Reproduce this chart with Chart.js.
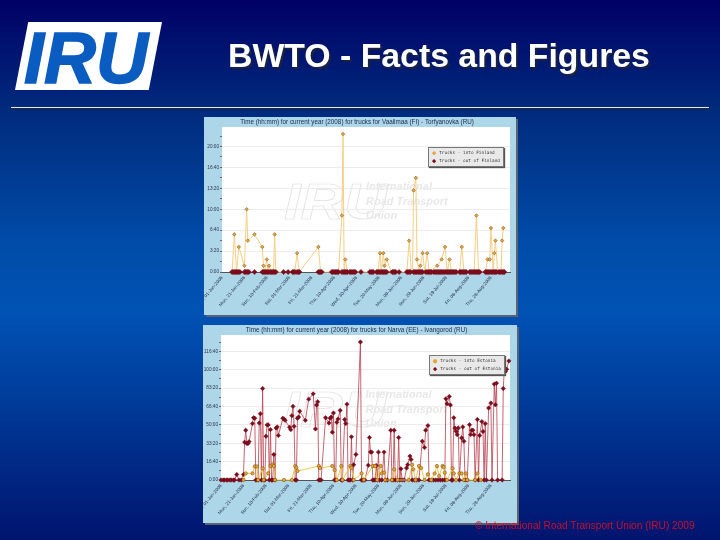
<!DOCTYPE html>
<html>
<head>
<meta charset="utf-8">
<script src="https://cdn.jsdelivr.net/npm/chart.js@4"></script>
<style>
  html, body { margin: 0; padding: 0; }
  body {
    width: 720px; height: 540px; overflow: hidden; position: relative;
    background: linear-gradient(#000066 0%, #002a7c 20%, #004ca8 45%, #0052b4 58%, #003a98 75%, #00146e 100%);
    font-family: "Liberation Sans", Arial, sans-serif;
  }
  #logo {
    position: absolute; left: 15px; top: 22px; width: 147px; height: 68px; background: #fff;
    clip-path: polygon(9% 0, 100% 0, 91% 100%, 0 100%); overflow: hidden;
  }
  #logo span {
    position: absolute; left: 9px; top: -9px; font: italic bold 72px "Liberation Sans"; color: #0a5cc0;
    line-height: 90px; -webkit-text-stroke: 1.5px #0a5cc0;
  }
  #heading {
    position: absolute; left: 228px; top: 37px; color: #fff; font-weight: bold; font-size: 33.8px;
    line-height: 36px; white-space: nowrap; text-shadow: 2px 2px 1px #1a2440; filter: blur(0.3px);
  }
  #rule { position: absolute; left: 11px; top: 107px; width: 698px; height: 1px; background: #e8eef8; box-shadow: 0 1px 0 #223; }
  #footer {
    position: absolute; left: 475px; top: 519px; color: #c8102e; font-size: 10.1px; line-height: 13px; white-space: nowrap;
  }
  .panel { position: absolute; box-shadow: 2px 2px 0 #59646e; background: #add6e8; }
  .panel canvas { display: block; filter: blur(0.45px); }
  .legend {
    position: absolute; background: #e9e9e9; border: 1px solid #777; box-shadow: 1px 1px 1px #555;
    font: 4.4px "DejaVu Sans Mono", monospace; color: #333; padding: 1px 3px; white-space: nowrap; filter: blur(0.25px);
  }
  .legend div { height: 8px; line-height: 8px; }
  .legend i { font-style: normal; font-size: 7px; margin-right: 3px; vertical-align: -1px; }
</style>
</head>
<body>
<div id="logo"><span>IRU</span></div>
<div id="heading">BWTO - Facts and Figures</div>
<div id="rule"></div>

<div class="panel" style="left:204px;top:117px;width:312px;height:198px">
  <canvas id="charts__vaalimaa" width="312" height="198"></canvas>
  <div class="legend" id="legend__vaalimaa" style="left:224px;top:30px"></div>
</div>
<div class="panel" style="left:203px;top:325px;width:314px;height:198px">
  <canvas id="charts__narva" width="314" height="198"></canvas>
  <div class="legend" id="legend__narva" style="left:226px;top:30px"></div>
</div>
<div id="footer">© International Road Transport Union (IRU) 2009</div>

<script>
// days counted from 1 Jan 2008, values in minutes
const dateTickDays = [0, 20, 40, 60, 80, 100, 120, 140, 160, 180, 200, 220, 240];
const dateTickLabels = ["Tue, 01-Jan-2008", "Mon, 21-Jan-2008", "Sun, 10-Feb-2008", "Sat, 01-Mar-2008", "Fri, 21-Mar-2008",
  "Thu, 10-Apr-2008", "Wed, 30-Apr-2008", "Tue, 20-May-2008", "Mon, 09-Jun-2008", "Sun, 29-Jun-2008",
  "Sat, 19-Jul-2008", "Fri, 08-Aug-2008", "Thu, 28-Aug-2008"];

const vaalimaaTicks = [0, 100, 200, 300, 400, 500, 600, 700, 800, 900, 1000, 1100, 1200, 1300];
const vaalimaaTickLabels = ["0:00", "", "3:20", "", "6:40", "", "10:00", "", "13:20", "", "16:40", "", "20:00", ""];

const intoFinlandDays = [9, 11, 13, 15, 20, 22, 23, 29, 36, 37, 38, 40, 41, 42, 44, 46, 47, 48, 65, 67, 69, 86, 88, 104, 107, 108, 109, 110, 112,
  139, 141, 142, 144, 145, 147, 151, 165, 167, 169, 170, 171, 173, 174, 176, 177, 179, 181, 183, 185, 192, 196, 199, 201, 203, 205,
  212, 214, 216, 225, 227, 229, 235, 237, 239, 240, 242, 243, 244, 246, 249, 250, 251];
const intoFinlandMinutes = [0, 360, 0, 240, 60, 600, 300, 360, 240, 60, 0, 120, 0, 60, 0, 0, 360, 0, 0, 180, 0, 240, 0, 0, 540, 1320, 0, 120, 0,
  0, 180, 0, 180, 60, 120, 0, 0, 300, 0, 0, 780, 900, 120, 0, 60, 180, 0, 180, 0, 60, 120, 240, 0, 120, 0,
  0, 240, 0, 0, 540, 0, 0, 120, 120, 420, 0, 180, 300, 0, 0, 300, 420];

const outOfFinlandDays = [9, 10, 11, 12, 13, 14, 15, 16, 20, 21, 22, 23, 24, 29, 36, 37, 38, 39, 40, 41, 42, 43, 44, 45, 46, 47, 48, 55, 59,
  63, 64, 65, 67, 68, 69, 86, 87, 88, 89, 98, 99, 100, 101, 102, 103, 104, 107, 108, 109, 110, 111, 112, 114, 115, 116, 117, 118, 119, 124,
  132, 133, 134, 135, 138, 139, 140, 141, 142, 143, 144, 145, 146, 147, 152, 153, 154, 155, 158, 165, 166, 167, 168,
  171, 172, 173, 174, 175, 176, 177, 178, 179, 182, 183, 184, 185, 186, 187, 189, 190, 191, 192, 193, 194, 195, 196, 197, 198, 199,
  200, 201, 202, 203, 204, 205, 206, 207, 208, 209, 212, 213, 214, 215, 216, 217, 218, 221, 222, 223, 224, 225, 226, 227, 228, 229, 230,
  235, 236, 237, 238, 239, 240, 241, 242, 243, 244, 245, 247, 248, 249, 250, 251, 252];

const narvaTicks = [0, 500, 1000, 1500, 2000, 2500, 3000, 3500, 4000, 4500, 5000, 5500, 6000, 6500, 7000, 7500];
const narvaTickLabels = ["0:00", "", "16:40", "", "33:20", "", "50:00", "", "66:40", "", "83:20", "", "100:00", "", "116:40", ""];

const intoEstoniaDays = [20, 22, 28, 30, 32, 33, 37, 38, 42, 44, 46, 47, 48, 56, 63, 66, 67, 68, 87, 88, 99, 101, 103, 107, 108, 115, 116, 118,
  125, 127, 135, 137, 139, 142, 143, 145, 146, 152, 154, 157, 167, 170, 171, 173, 176, 178, 181, 184, 187, 190, 192, 194, 197, 198, 199, 201,
  206, 207, 209, 212, 214, 216, 218, 219, 226, 228, 231];
const intoEstoniaMinutes = [0, 360, 360, 740, 740, 0, 630, 0, 360, 760, 850, 760, 0, 0, 0, 760, 670, 490, 760, 650, 760, 540, 0, 760, 0, 760, 670, 0,
  360, 0, 760, 760, 0, 760, 360, 410, 0, 0, 580, 0, 0, 830, 580, 0, 760, 650, 0, 310, 0, 360, 760, 220, 760, 700, 400, 0,
  630, 360, 0, 360, 360, 0, 360, 0, 0, 360, 0];

// line breaks match between the two arrays
const outOfEstoniaDays = [
  0, 2, 3, 5, 6, 8, 9, 11, 12, 14, 16, 18,
  20, 21, 22, 23, 24, 25, 28, 29, 30, 31, 32, 33, 34, 35, 36, 37, 38, 39,
  40, 41, 42, 43, 44, 45, 46, 47, 48, 49, 50, 51, 55, 56, 57,
  61, 62, 63, 64, 65, 66, 67, 68, 69, 70, 75, 78,
  82, 84, 85, 86, 87, 88, 89, 93, 96, 97, 98, 99,
  100, 101, 102, 103, 104, 106, 107, 108, 110, 111, 112, 113, 114, 115, 116, 117, 118,
  120, 124, 125, 126, 127, 128, 131, 132, 133, 134, 135, 136, 137, 138, 139,
  140, 141, 143, 145, 146, 148, 151, 152, 153, 154, 155, 157, 158, 159,
  160, 161, 163, 165, 166, 168, 169, 170, 172, 174, 176, 179,
  181, 182, 184, 185, 187, 189, 191, 193, 195, 197, 199,
  200, 201, 203, 204, 205, 206, 207, 208, 209, 210, 211, 212, 214, 215, 216, 217, 219,
  221, 222, 223, 224, 225, 226, 228, 229, 230, 232, 233, 234, 235, 236, 238,
  240, 241, 243, 244, 245, 246, 250, 251, 252, 253, 254, 256];
const outOfEstoniaMinutes = [
  0, 0, 0, 0, 0, 0, 0, 0, 0, 300, 0, 0,
  300, 2060, 2710, 1990, 1990, 2090, 3070, 3390, 3360, 0, 0, 0, 3100, 3610, 0, 4980, 0, 0,
  2380, 3000, 3000, 0, 2740, 0, 0, 1390, 0, 2830, 2890, 2420, 3360, 3320, 3250,
  2870, 2740, 3500, 4010, 2920, 0, 0, 3360, 3430, 3740, 3250, 4400,
  4690, 2780, 4080, 4260, 0, 0, 0, 3390, 3100, 3360, 3430, 2600,
  3650, 0, 0, 3140, 3320, 3790, 0, 0, 3290, 3070, 4130, 0, 0, 0, 2350, 0, 830,
  1390, 7510, 0, 0, 0, 0, 800, 2310, 1520, 1520, 0, 0, 0, 790, 0,
  1520, 0, 0, 1520, 0, 0, 2710, 0, 0, 2710, 0, 0, 2310, 0,
  610, 0, 0, 650, 830, 1300, 1120, 0, 0, 0, 0, 2110,
  1770, 2710, 2960, 0, 0, 0, 0, 0, 0, 0, 0,
  4420, 4150, 4550, 4080, 0, 0, 3390, 2830, 2650, 2470, 2830, 0, 2290, 2890, 2110, 0, 0,
  3010, 2470, 2710, 2710, 2470, 0, 3290, 0, 2420, 3180, 2640, 0, 3070, 0, 3920,
  4190, 0, 5220, 4100, 5270, 0, 0, 4980, 6080, 5900, 6030, 6480];

const toPoints = (days, minutes) => days.map((d, i) => ({ x: d, y: minutes ? minutes[i] : 0 }));

// white plot area and the grey watermark behind the lines
const plotBackground = {
  id: "plotBackground",
  beforeDraw(chart) {
    const { ctx, chartArea: a } = chart;
    ctx.save();
    ctx.fillStyle = "#fff";
    ctx.fillRect(a.left, a.top, a.right - a.left, a.bottom - a.top);
    const w = a.right - a.left, h = a.bottom - a.top;
    ctx.strokeStyle = "#e0e0e0";
    ctx.lineWidth = 0.7;
    ctx.save();
    ctx.translate(a.left + w * 0.215, a.top + h * 0.635);
    ctx.scale(1.2, 1);
    ctx.font = "italic bold 50px 'Liberation Sans'";
    ctx.strokeText("IRU", 0, 0);
    ctx.restore();
    ctx.fillStyle = "#e8e8e8";
    ctx.font = "italic bold 11px 'Liberation Sans'";
    ctx.fillText("International", a.left + w * 0.5, a.top + h * 0.435);
    ctx.fillText("Road Transport", a.left + w * 0.5, a.top + h * 0.535);
    ctx.fillText("Union", a.left + w * 0.5, a.top + h * 0.635);
    ctx.restore();
  }
};

function rendChart(id, title, yTicks, yLabels, yMax, inSet, outSet, leftWidth, rightPad) {
  new Chart(document.getElementById(id), {
    type: "line",
    data: { datasets: [inSet, outSet] },
    options: {
      responsive: false,
      animation: false,
      layout: { padding: { left: 0, right: rightPad, top: 0, bottom: 0 } },
      plugins: {
        legend: { display: false },
        tooltip: { enabled: false },
        title: {
          display: true,
          text: title,
          color: "#1a2a50",
          font: { family: "Liberation Sans", size: 6.3, weight: "normal" },
          padding: { top: 1.5, bottom: 1 }
        }
      },
      scales: {
        x: {
          type: "linear",
          min: 0,
          max: 257,
          afterBuildTicks: axis => { axis.ticks = dateTickDays.map(v => ({ value: v })); },
          afterFit: axis => { axis.height = 43; axis.paddingLeft = 0; axis.paddingRight = 0; },
          grid: { display: false, tickLength: 2 },
          border: { color: "#555", width: 1 },
          ticks: {
            autoSkip: false, minRotation: 50, maxRotation: 50, padding: 1, color: "#2a3550",
            font: { family: "Liberation Sans", size: 4.7 },
            callback: (v, i) => dateTickLabels[i]
          }
        },
        y: {
          min: 0,
          max: yMax,
          afterBuildTicks: axis => { axis.ticks = yTicks.map(v => ({ value: v })); },
          afterFit: axis => { axis.width = leftWidth; },
          grid: {
            tickLength: 2,
            color: c => (yLabels[c.index] ? "#ececec" : "transparent"),
            tickColor: "#666"
          },
          border: { display: false },
          ticks: {
            autoSkip: false, padding: 1, color: "#2a3550",
            font: { family: "Liberation Sans", size: 4.7 },
            callback: (v, i) => yLabels[i]
          }
        }
      }
    },
    plugins: [plotBackground]
  });

  document.getElementById(id.replace("charts", "legend")).innerHTML = [inSet, outSet]
    .map(s => `<div><i style="color:${s.pointBackgroundColor}">${s.legendGlyph}</i>${s.label}</div>`).join("");
}

rendChart("charts__vaalimaa",
  "Time (hh:mm) for current year (2008) for trucks for Vaalimaa (FI) - Torfyanovka (RU)",
  vaalimaaTicks, vaalimaaTickLabels, 1386,
  {
    label: "trucks - into Finland", legendGlyph: "◆",
    data: toPoints(intoFinlandDays, intoFinlandMinutes),
    borderColor: "#f6cf85", borderWidth: 1, tension: 0, clip: false, order: 1,
    pointStyle: "rectRot", pointRadius: 1.8, pointBackgroundColor: "#e8a33a", pointBorderColor: "#6b4a18", pointBorderWidth: 0.5
  },
  {
    label: "trucks - out of Finland", legendGlyph: "◆",
    data: toPoints(outOfFinlandDays),
    showLine: false, clip: false, order: 0,
    pointStyle: "rectRot", pointRadius: 2.6, pointBackgroundColor: "#7a0d1c", pointBorderColor: "#7a0d1c", pointBorderWidth: 0.5
  },
  18, 6);

rendChart("charts__narva",
  "Time (hh:mm) for current year (2008) for trucks for Narva (EE) - Ivangorod (RU)",
  narvaTicks, narvaTickLabels, 7890,
  {
    label: "trucks - into Estonia", legendGlyph: "●",
    data: toPoints(intoEstoniaDays, intoEstoniaMinutes),
    borderColor: "#f0c84a", borderWidth: 1, tension: 0, clip: false, order: 0,
    pointStyle: "circle", pointRadius: 1.7, pointBackgroundColor: "#e8a52c", pointBorderColor: "#70481a", pointBorderWidth: 0.5
  },
  {
    label: "trucks - out of Estonia", legendGlyph: "◆",
    data: toPoints(outOfEstoniaDays, outOfEstoniaMinutes),
    borderColor: "rgba(184, 64, 78, 0.8)", borderWidth: 1, tension: 0, clip: false, order: 1,
    pointStyle: "rectRot", pointRadius: 2.2, pointBackgroundColor: "#7a0d1c", pointBorderColor: "#7a0d1c", pointBorderWidth: 0.5
  },
  18, 7);
</script>
</body>
</html>
